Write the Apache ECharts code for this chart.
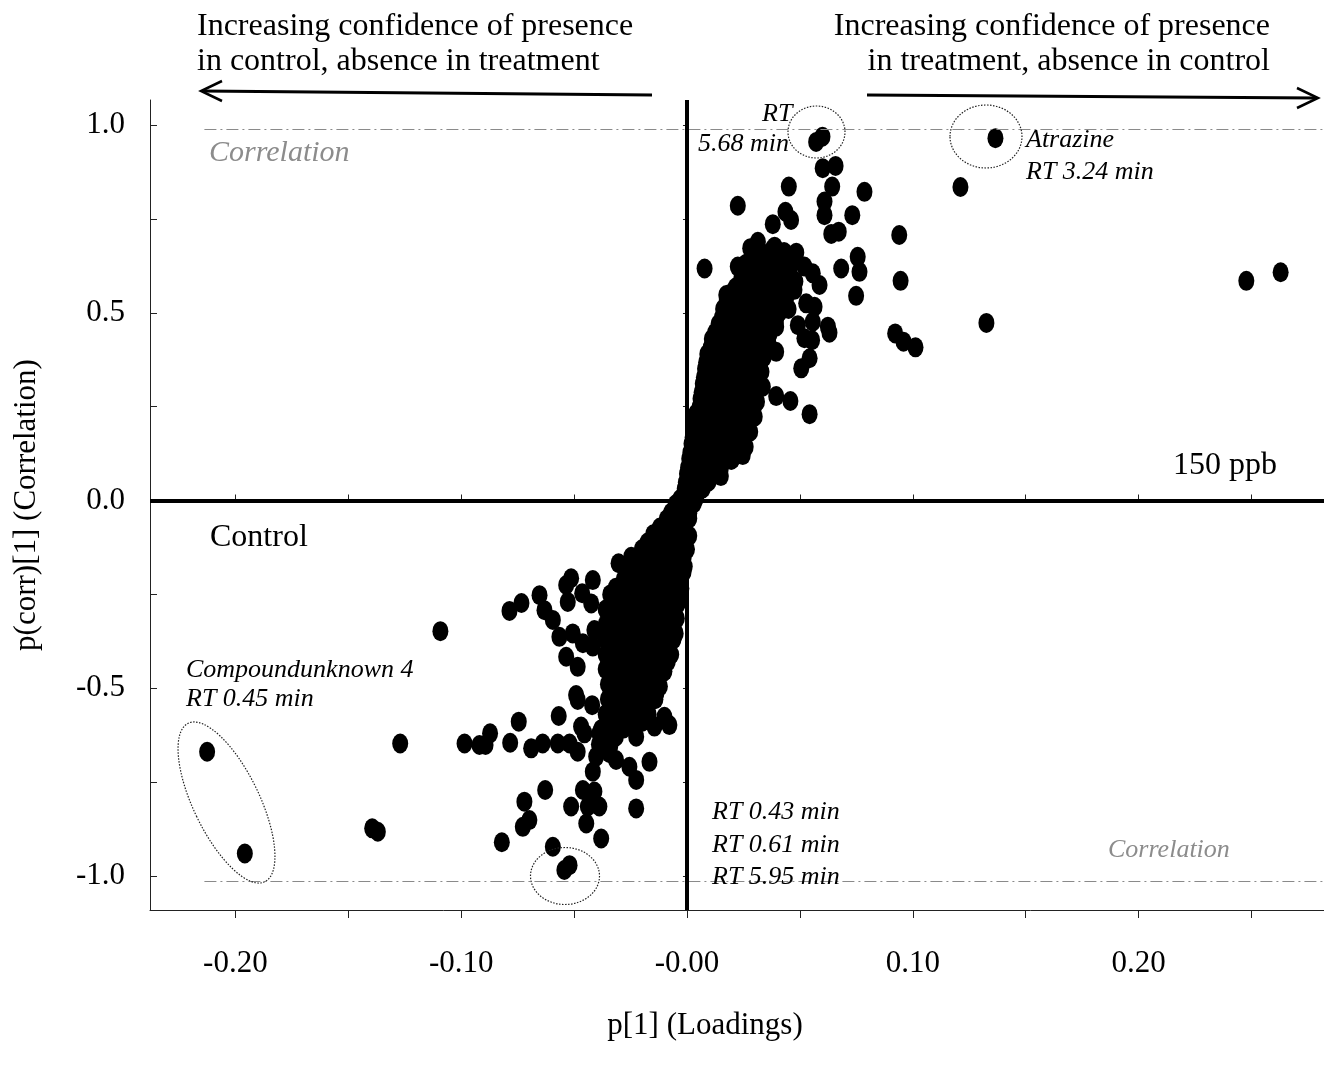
<!DOCTYPE html>
<html>
<head>
<meta charset="utf-8">
<title>S-plot</title>
<script src="https://cdn.jsdelivr.net/npm/echarts@6.0.0/dist/echarts.min.js"></script>
<style>
  html, body { margin: 0; padding: 0; background: #fff; }
  #chart { width: 1324px; height: 1068px; }
</style>
</head>
<body>
<div id="chart"></div>
<script>
// p[1] loadings vs p(corr)[1] correlation

// dense part of the S, positive side
const upperBand = [
  [0.028,0.672],[0.033,0.660],[0.038,0.670],[0.043,0.662],
  [0.026,0.630],[0.031,0.622],[0.036,0.633],[0.041,0.625],[0.046,0.630],
  [0.024,0.590],[0.029,0.582],[0.034,0.592],[0.039,0.584],[0.044,0.591],[0.048,0.583],
  [0.019,0.550],[0.024,0.543],[0.029,0.552],[0.034,0.545],[0.039,0.551],[0.044,0.542],
  [0.016,0.510],[0.021,0.503],[0.026,0.512],[0.031,0.505],[0.036,0.509],[0.041,0.502],[0.045,0.510],
  [0.014,0.470],[0.019,0.463],[0.024,0.472],[0.029,0.465],[0.034,0.469],[0.038,0.462],
  [0.011,0.430],[0.016,0.423],[0.021,0.432],[0.026,0.425],[0.031,0.429],[0.036,0.422],
  [0.009,0.390],[0.014,0.383],[0.019,0.392],[0.024,0.385],[0.029,0.389],[0.034,0.382],
  [0.008,0.351],[0.013,0.344],[0.018,0.352],[0.023,0.345],[0.028,0.350],[0.033,0.343],
  [0.007,0.311],[0.012,0.304],[0.017,0.312],[0.022,0.305],[0.027,0.310],[0.032,0.303],
  [0.006,0.271],[0.011,0.264],[0.016,0.272],[0.021,0.265],[0.026,0.270],[0.031,0.263],
  [0.004,0.231],[0.009,0.224],[0.014,0.232],[0.019,0.225],[0.024,0.230],[0.030,0.223],
  [0.003,0.191],[0.008,0.184],[0.013,0.192],[0.018,0.185],[0.023,0.190],[0.028,0.183],
  [0.002,0.151],[0.007,0.144],[0.012,0.152],[0.017,0.145],[0.022,0.150],[0.026,0.143],
  [0.001,0.111],[0.006,0.104],[0.011,0.112],[0.016,0.105],[0.020,0.110],
  [0.000,0.071],[0.005,0.064],[0.010,0.072],[0.015,0.065],
  [-0.001,0.031],[0.003,0.024],[0.007,0.032],
  [-0.003,0.004],[0.001,-0.002],[0.004,0.006]
];

// more points packed between the rows above
const upperFill = [
  [0.0285,0.647],[0.0335,0.645],[0.0385,0.649],[0.0435,0.644],
  [0.0265,0.607],[0.0315,0.604],[0.0365,0.609],[0.0415,0.605],[0.0455,0.608],
  [0.0215,0.567],[0.0265,0.564],[0.0315,0.569],[0.0365,0.565],[0.0415,0.568],[0.0455,0.563],
  [0.0175,0.527],[0.0225,0.524],[0.0275,0.529],[0.0325,0.525],[0.0375,0.528],[0.0425,0.523],
  [0.0155,0.487],[0.0205,0.484],[0.0255,0.489],[0.0305,0.485],[0.0355,0.488],[0.0395,0.483],
  [0.0125,0.447],[0.0175,0.444],[0.0225,0.449],[0.0275,0.445],[0.0325,0.448],[0.0365,0.443],
  [0.0105,0.407],[0.0155,0.404],[0.0205,0.409],[0.0255,0.405],[0.0305,0.408],[0.0345,0.403],
  [0.0085,0.368],[0.0135,0.365],[0.0185,0.370],[0.0235,0.366],[0.0285,0.369],[0.0325,0.364],
  [0.0075,0.328],[0.0125,0.325],[0.0175,0.330],[0.0225,0.326],[0.0275,0.329],[0.0315,0.324],
  [0.0065,0.288],[0.0115,0.285],[0.0165,0.290],[0.0215,0.286],[0.0265,0.289],[0.0305,0.284],
  [0.0055,0.248],[0.0105,0.245],[0.0155,0.250],[0.0205,0.246],[0.0255,0.249],[0.0295,0.244],
  [0.0035,0.208],[0.0085,0.205],[0.0135,0.210],[0.0185,0.206],[0.0235,0.209],[0.0270,0.204],
  [0.0025,0.168],[0.0075,0.165],[0.0125,0.170],[0.0175,0.166],[0.0225,0.169],
  [0.0015,0.128],[0.0065,0.125],[0.0115,0.130],[0.0165,0.126],[0.0210,0.129],
  [0.0005,0.088],[0.0055,0.085],[0.0105,0.090],[0.0150,0.086],
  [-0.0005,0.048],[0.0045,0.045],[0.0095,0.050],
  [-0.0015,0.014],[0.0025,0.012]
];

// dense part of the S, negative side
const lowerBand = [
  [-0.005,-0.010],[-0.001,-0.016],[0.003,-0.008],
  [-0.009,-0.050],[-0.004,-0.056],[0.001,-0.048],
  [-0.015,-0.090],[-0.010,-0.096],[-0.005,-0.088],[0.001,-0.094],
  [-0.020,-0.130],[-0.015,-0.136],[-0.010,-0.128],[-0.005,-0.134],[0.000,-0.130],
  [-0.024,-0.170],[-0.019,-0.176],[-0.014,-0.168],[-0.009,-0.174],[-0.004,-0.170],[-0.001,-0.176],
  [-0.028,-0.210],[-0.023,-0.216],[-0.018,-0.208],[-0.013,-0.214],[-0.008,-0.210],[-0.003,-0.216],
  [-0.034,-0.250],[-0.029,-0.256],[-0.024,-0.248],[-0.019,-0.254],[-0.014,-0.250],[-0.009,-0.256],[-0.004,-0.250],
  [-0.036,-0.290],[-0.031,-0.296],[-0.026,-0.288],[-0.021,-0.294],[-0.016,-0.290],[-0.011,-0.296],[-0.006,-0.290],
  [-0.036,-0.330],[-0.031,-0.336],[-0.026,-0.328],[-0.021,-0.334],[-0.016,-0.330],[-0.011,-0.336],[-0.006,-0.330],
  [-0.036,-0.370],[-0.031,-0.376],[-0.026,-0.368],[-0.021,-0.374],[-0.016,-0.370],[-0.011,-0.376],[-0.006,-0.370],
  [-0.036,-0.410],[-0.031,-0.416],[-0.026,-0.408],[-0.021,-0.414],[-0.016,-0.410],[-0.011,-0.416],[-0.007,-0.410],
  [-0.036,-0.449],[-0.031,-0.455],[-0.026,-0.447],[-0.021,-0.453],[-0.016,-0.449],[-0.010,-0.455],
  [-0.035,-0.489],[-0.030,-0.495],[-0.025,-0.487],[-0.020,-0.493],[-0.015,-0.489],[-0.012,-0.495],
  [-0.035,-0.529],[-0.030,-0.535],[-0.025,-0.527],[-0.020,-0.533],[-0.014,-0.529],
  [-0.036,-0.569],[-0.031,-0.575],[-0.026,-0.567],[-0.021,-0.573],[-0.017,-0.569],
  [-0.038,-0.609],[-0.033,-0.615],[-0.028,-0.607],
  [-0.039,-0.649],[-0.034,-0.655]
];

const lowerFill = [
  [-0.007,-0.032],[-0.003,-0.030],[0.001,-0.034],
  [-0.012,-0.072],[-0.007,-0.070],[-0.002,-0.074],
  [-0.0175,-0.112],[-0.0125,-0.110],[-0.0075,-0.114],[-0.0025,-0.111],
  [-0.0215,-0.152],[-0.0165,-0.150],[-0.0115,-0.154],[-0.0065,-0.151],[-0.0015,-0.153],
  [-0.0255,-0.192],[-0.0205,-0.190],[-0.0155,-0.194],[-0.0105,-0.191],[-0.0055,-0.193],[-0.0015,-0.190],
  [-0.0315,-0.232],[-0.0265,-0.230],[-0.0215,-0.234],[-0.0165,-0.231],[-0.0115,-0.233],[-0.0065,-0.230],[-0.0025,-0.234],
  [-0.0335,-0.272],[-0.0285,-0.270],[-0.0235,-0.274],[-0.0185,-0.271],[-0.0135,-0.273],[-0.0085,-0.270],[-0.0040,-0.274],
  [-0.0335,-0.312],[-0.0285,-0.310],[-0.0235,-0.314],[-0.0185,-0.311],[-0.0135,-0.313],[-0.0085,-0.310],[-0.0045,-0.314],
  [-0.0335,-0.352],[-0.0285,-0.350],[-0.0235,-0.354],[-0.0185,-0.351],[-0.0135,-0.353],[-0.0085,-0.350],[-0.0050,-0.354],
  [-0.0335,-0.392],[-0.0285,-0.390],[-0.0235,-0.394],[-0.0185,-0.391],[-0.0135,-0.393],[-0.0085,-0.390],
  [-0.0335,-0.431],[-0.0285,-0.429],[-0.0235,-0.433],[-0.0185,-0.430],[-0.0135,-0.432],[-0.0085,-0.429],
  [-0.0335,-0.471],[-0.0285,-0.469],[-0.0235,-0.473],[-0.0185,-0.470],[-0.0135,-0.472],
  [-0.0325,-0.511],[-0.0275,-0.509],[-0.0225,-0.513],[-0.0175,-0.510],[-0.0135,-0.512],
  [-0.0335,-0.551],[-0.0285,-0.549],[-0.0235,-0.553],[-0.0185,-0.550],
  [-0.0355,-0.591],[-0.0305,-0.589],[-0.0255,-0.593],[-0.0200,-0.590],
  [-0.0365,-0.631],[-0.0315,-0.629]
];

// scattered points, treatment side
const treatmentPts = [
  [0.2629,0.608],[0.2477,0.585],[0.1366,0.965],[0.1211,0.835],[0.1326,0.473],
  [0.0940,0.707],[0.0946,0.585],[0.0922,0.445],[0.0959,0.423],[0.1012,0.408],
  [0.0786,0.822],[0.0572,0.955],[0.0600,0.969],[0.0601,0.885],[0.0658,0.891],
  [0.0451,0.836],[0.0643,0.836],[0.0225,0.785],[0.0609,0.796],[0.0609,0.760],
  [0.0436,0.769],[0.0461,0.747],[0.0380,0.736],[0.0732,0.760],[0.0639,0.710],
  [0.0672,0.716],[0.0314,0.689],[0.0388,0.676],[0.0484,0.660],[0.0078,0.618],
  [0.0225,0.623],[0.0520,0.623],[0.0557,0.605],[0.0587,0.574],[0.0683,0.618],
  [0.0756,0.649],[0.0764,0.609],[0.0749,0.545],[0.0174,0.547],[0.0476,0.561],
  [0.0528,0.525],[0.0565,0.516],[0.0388,0.503],[0.0166,0.472],[0.0491,0.467],
  [0.0557,0.476],[0.0624,0.463],[0.0395,0.463],[0.0631,0.447],[0.0520,0.432],
  [0.0554,0.427],[0.0395,0.396],[0.0543,0.379],[0.0506,0.352],[0.0336,0.303],
  [0.0395,0.278],[0.0458,0.265],[0.0543,0.230],[0.0247,0.121],[0.0196,0.108],
  [0.0107,0.063]
];

// scattered points, control side
const controlPts = [
  [-0.2125,-0.669],[-0.1958,-0.940],[-0.1092,-0.348],[-0.1270,-0.647],[-0.0985,-0.647],
  [-0.0919,-0.651],[-0.1394,-0.873],[-0.1369,-0.882],[-0.0892,-0.651],[-0.0872,-0.620],
  [-0.0783,-0.645],[-0.0745,-0.589],[-0.0690,-0.660],[-0.0639,-0.647],[-0.0572,-0.647],
  [-0.0520,-0.647],[-0.0484,-0.669],[-0.0568,-0.574],[-0.0484,-0.531],[-0.0420,-0.545],
  [-0.0469,-0.602],[-0.0454,-0.620],[-0.0388,-0.620],[-0.0402,-0.682],[-0.0417,-0.722],
  [-0.0343,-0.673],[-0.0314,-0.691],[-0.0255,-0.709],[-0.0225,-0.744],[-0.0166,-0.696],
  [-0.0225,-0.820],[-0.0100,-0.576],[-0.0144,-0.602],[-0.0078,-0.598],[-0.0225,-0.629],
  [-0.0720,-0.802],[-0.0698,-0.851],[-0.0727,-0.869],[-0.0628,-0.771],[-0.0820,-0.910],
  [-0.0594,-0.922],[-0.0461,-0.771],[-0.0410,-0.775],[-0.0513,-0.815],[-0.0439,-0.815],
  [-0.0388,-0.815],[-0.0446,-0.860],[-0.0380,-0.900],[-0.0543,-0.984],[-0.0520,-0.971],
  [-0.0303,-0.167],[-0.0247,-0.150],[-0.0136,-0.087],[-0.0513,-0.207],[-0.0535,-0.225],
  [-0.0417,-0.212],[-0.0464,-0.247],[-0.0528,-0.270],[-0.0424,-0.274],[-0.0653,-0.252],
  [-0.0631,-0.292],[-0.0594,-0.318],[-0.0565,-0.363],[-0.0506,-0.354],[-0.0461,-0.380],
  [-0.0410,-0.345],[-0.0417,-0.389],[-0.0535,-0.416],[-0.0484,-0.443],[-0.0491,-0.518],
  [-0.0321,-0.256],[-0.0786,-0.294],[-0.0733,-0.273]
];

const xTicks = [-0.20,-0.15,-0.10,-0.05,0,0.05,0.10,0.15,0.20,0.25];
const xLabels = [-0.20,-0.10,0,0.10,0.20];
const yTicks = [-1,-0.75,-0.5,-0.25,0,0.25,0.5,0.75,1];
const yLabels = [-1,-0.5,0,0.5,1];
const corrLimits = [0.9885, -1.013];

const xMin = -0.2378, xMax = 0.2821;
const yMin = -1.0905, yMax = 1.0666;

const serif = '"Liberation Serif", "Times New Roman", serif';
const dot = 'path://M0,-1A1,1 0 1,1 0,1A1,1 0 1,1 0,-1Z';

const chart = echarts.init(document.getElementById('chart'));

const txt = (x, y, s, size, italic, align) => ({
  type: 'text', x: x, y: y, z: 10,
  style: {
    text: s, fill: '#000', align: align || 'left', verticalAlign: 'middle',
    font: (italic ? 'italic ' : '') + size + 'px ' + serif
  }
});

const ring = (cx, cy, rx, ry, rot) => ({
  type: 'ellipse', x: cx, y: cy, rotation: rot || 0, z: 10,
  shape: { cx: 0, cy: 0, rx: rx, ry: ry },
  style: { fill: 'none', stroke: '#222', lineWidth: 1.2, lineDash: [1.5, 1.5] }
});

const gray = (t) => { t.style.fill = '#8c8c8c'; return t; };

const dots = (name, data) => ({
  name: name, type: 'scatter', data: data, z: 2,
  symbol: dot, symbolSize: [16, 20], itemStyle: { color: '#000', opacity: 1 }
});

const option = {
  animation: false,
  backgroundColor: '#fff',
  grid: { left: 150, right: 0, top: 100, bottom: 158 },
  xAxis: [{
    type: 'value', min: xMin, max: xMax,
    name: 'p[1] (Loadings)', nameLocation: 'middle', nameGap: 100,
    nameTextStyle: { fontFamily: serif, fontSize: 31, color: '#000', padding: [0, 64, 0, 0] },
    axisLine: { show: true, onZero: false, lineStyle: { color: '#222', width: 1 } },
    axisTick: { show: true, length: 8, customValues: xTicks, lineStyle: { color: '#222' } },
    axisLabel: {
      customValues: xLabels, margin: 38, fontFamily: serif, fontSize: 31, color: '#000',
      formatter: v => (v === 0 ? '-0.00' : v.toFixed(2))
    },
    splitLine: { show: false }
  }, {
    type: 'value', min: xMin, max: xMax, position: 'bottom',
    axisLine: { show: false },
    axisTick: { show: true, inside: true, length: 6, customValues: xTicks, lineStyle: { color: '#222' } },
    axisLabel: { show: false }, splitLine: { show: false }
  }],
  yAxis: [{
    type: 'value', min: yMin, max: yMax,
    name: 'p(corr)[1] (Correlation)', nameLocation: 'middle', nameGap: 108,
    nameTextStyle: { fontFamily: serif, fontSize: 31, color: '#000' },
    axisLine: { show: true, onZero: false, lineStyle: { color: '#222', width: 1 } },
    axisTick: { show: true, inside: true, length: 7, customValues: yTicks, lineStyle: { color: '#222' } },
    axisLabel: {
      customValues: yLabels, margin: 25, fontFamily: serif, fontSize: 31, color: '#000',
      formatter: v => v.toFixed(1)
    },
    splitLine: { show: false }
  }, {
    type: 'value', min: yMin, max: yMax, position: 'left',
    axisLine: { show: false },
    axisTick: { show: true, length: 4, customValues: yTicks, lineStyle: { color: '#222' } },
    axisLabel: { show: false }, splitLine: { show: false }
  }],
  series: [{
    name: 'limits', type: 'scatter', data: [], z: 1, silent: true,
    markLine: {
      symbol: 'none', silent: true, label: { show: false },
      lineStyle: { color: '#8a8a8a', width: 1, type: [12, 4, 2, 4] },
      data: corrLimits.map(c => [{ coord: [-0.2137, c] }, { coord: [xMax, c] }])
    }
  },
    dots('upper', upperBand),
    dots('upperFill', upperFill),
    dots('lower', lowerBand),
    dots('lowerFill', lowerFill),
    dots('treatment', treatmentPts),
    dots('control', controlPts),
  {
    name: 'zero', type: 'scatter', data: [], z: 5, silent: true,
    markLine: {
      symbol: 'none', silent: true, label: { show: false },
      lineStyle: { color: '#000', width: 4, type: 'solid' },
      data: [{ xAxis: 0 }, { yAxis: 0 }]
    }
  }],
  graphic: [
    // headers and arrows
    txt(197, 27, 'Increasing confidence of presence', 32),
    txt(197, 62, 'in control, absence in treatment', 32),
    txt(1270, 27, 'Increasing confidence of presence', 32, false, 'right'),
    txt(1270, 62, 'in treatment, absence in control', 32, false, 'right'),
    { type: 'line', shape: { x1: 652, y1: 95, x2: 202, y2: 91 }, style: { stroke: '#000', lineWidth: 3 } },
    { type: 'polyline', shape: { points: [[222, 81], [201, 91], [222, 101]] }, style: { stroke: '#000', lineWidth: 2.5, fill: null } },
    { type: 'line', shape: { x1: 867, y1: 95, x2: 1316, y2: 98 }, style: { stroke: '#000', lineWidth: 3 } },
    { type: 'polyline', shape: { points: [[1297, 88], [1318, 98], [1297, 108]] }, style: { stroke: '#000', lineWidth: 2.5, fill: null } },
    // annotations
    gray(txt(209, 153, 'Correlation', 30, true)),
    gray(txt(1108, 850, 'Correlation', 26, true)),
    txt(762, 114, 'RT', 26, true),
    txt(698, 144, '5.68 min', 26, true),
    txt(1026, 140, 'Atrazine', 26, true),
    txt(1026, 172, 'RT 3.24 min', 26, true),
    txt(186, 670, 'Compoundunknown 4', 26, true),
    txt(186, 699, 'RT 0.45 min', 26, true),
    txt(712, 812, 'RT 0.43 min', 26, true),
    txt(712, 845, 'RT 0.61 min', 26, true),
    txt(712, 877, 'RT 5.95 min', 26, true),
    txt(1173, 466, '150 ppb', 32),
    txt(210, 538, 'Control', 32),
    // dotted rings
    ring(816.5, 132, 28.5, 26),
    ring(986, 136.5, 36, 31.5),
    ring(226.5, 802.5, 33, 88, 0.45),
    ring(565, 876, 34.5, 28.5)
  ]
};

chart.setOption(option);
</script>
</body>
</html>
